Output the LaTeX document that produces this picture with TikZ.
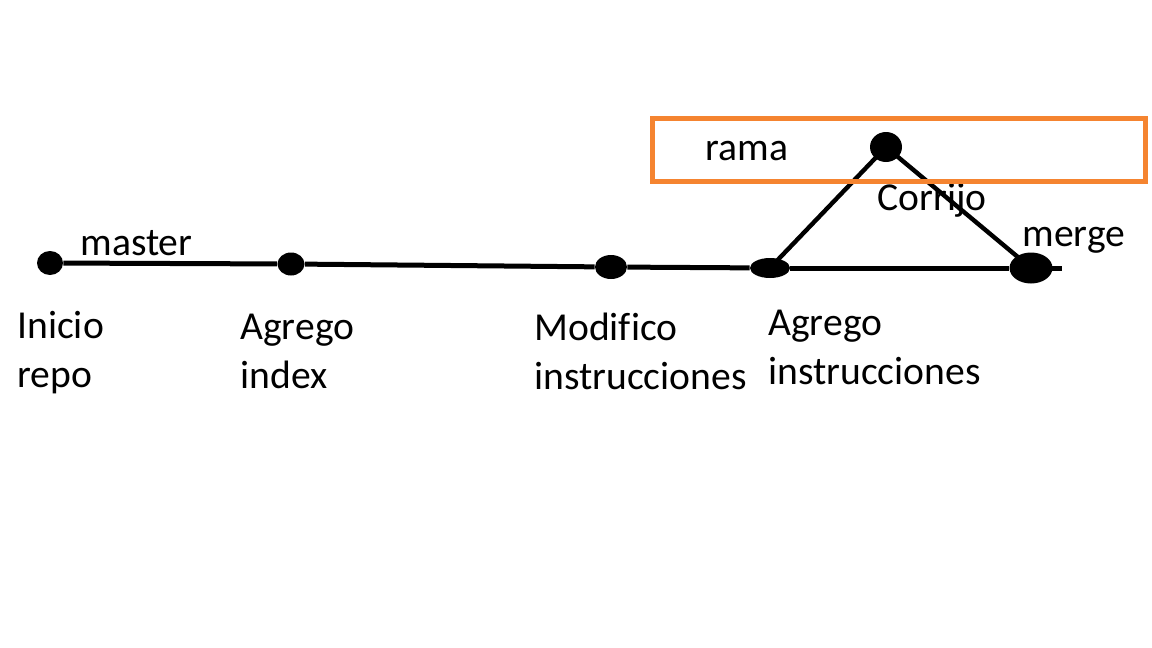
\documentclass[tikz,border=0pt]{standalone}
\usepackage{fontspec}
\setmainfont{Carlito}[Ligatures=NoCommon]
\usetikzlibrary{shapes.geometric}

\definecolor{ramaorange}{RGB}{245,132,48}

\begin{document}
\begin{tikzpicture}[x=0.5pt, y=-0.5pt,
  commit/.style = {draw=none, fill=black, ellipse, inner sep=0pt},
  lbl/.style = {anchor=base west, inner sep=0pt, align=left,
    font=\fontsize{19.8}{24.5}\selectfont}]
\useasboundingbox (0,0) rectangle (1152,648);
% commits
\node[commit, minimum width=13pt, minimum height=12pt] (1) at (50,263) {};
\node[commit, minimum width=13.5pt, minimum height=11.5pt] (2) at (291,264) {};
\node[commit, minimum width=16pt, minimum height=12pt] (3) at (611,267) {};
\node[commit, minimum width=20pt, minimum height=10pt] (4) at (770,268) {};
\node[commit, minimum width=16pt, minimum height=15pt] (5) at (886,147) {};
\node[commit, minimum width=21.5pt, minimum height=15.5pt] (6) at (1031,268) {};
\coordinate (end) at (1062,268);
% lines
\draw[line width=2.5pt] (1) -- (2);
\draw[line width=2.5pt] (2) -- (3);
\draw[line width=2.5pt] (3) -- (4);
\draw[line width=2.5pt] (4) -- (6);
\draw[line width=2.5pt] (6.center) -- (end);
\draw[line width=2.2pt] (4.center) -- (5.center);
\draw[line width=2.2pt] (5.center) -- (6.center);
% labels
\node[lbl] (master) at (80,255) {master};
\node[lbl] (inicio) at (17,387) {Inicio\\repo};
\node[lbl] (index) at (240,388) {Agrego\\index};
\node[lbl] (modifico) at (534,389) {Modifico\\instrucciones};
\node[lbl] (agrego) at (768,384) {Agrego\\instrucciones};
\node[lbl] (rama) at (705,160) {rama};
\node[lbl] (corrijo) at (877,210) {Corrijo};
\node[lbl] (merge) at (1022,246) {merge};
% branch box
\draw[ramaorange, line width=2.5pt] (652,118) rectangle (1145,181);
\end{tikzpicture}
\end{document}
